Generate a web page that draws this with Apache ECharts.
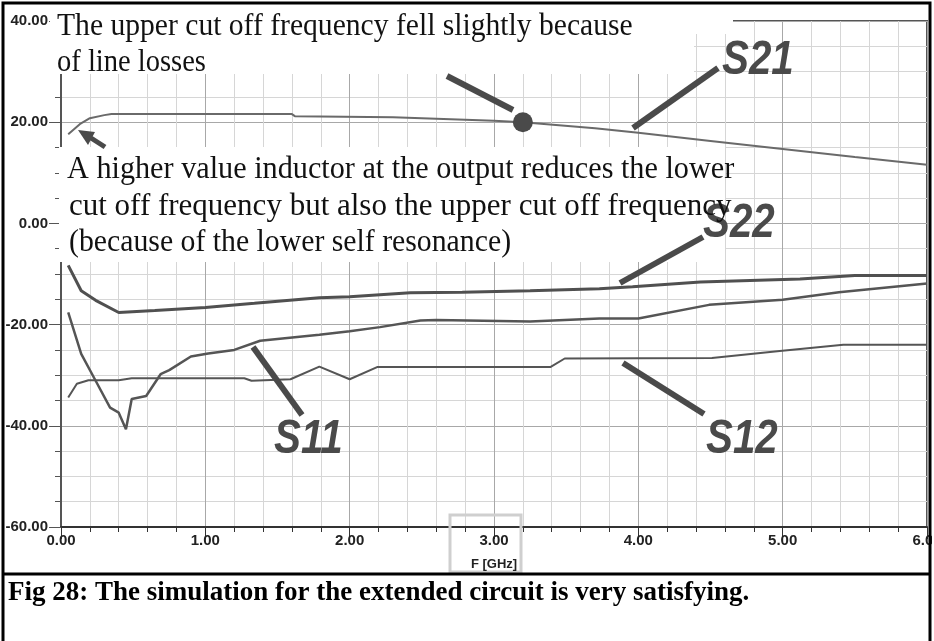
<!DOCTYPE html>
<html lang="en">
<head>
<meta charset="UTF-8">
<title>Fig 28</title>
<script src="https://cdn.jsdelivr.net/npm/echarts@6/dist/echarts.min.js"></script>
<style>
    *{
        padding: 0;
        margin: 0;
    }
    html, body{
        width: 100%;
        height: 100%;
        background: #fff;
    }
    .echarts{
        width: 934px;
        height: 641px;
    }
</style>
</head>
<body>
<div class="echarts"></div>
<script>
// curves, [GHz, dB]
let s21 = [[0.05,17.6],[0.13,19.6],[0.2,20.8],[0.3,21.4],[0.35,21.6],[1.6,21.6],[1.62,21.2],[2.3,21.0],[2.6,20.7],[3.0,20.3],[3.2,20.0],[3.7,18.8],[4.0,17.9],[4.5,16.3],[5.0,14.7],[5.5,13.1],[6.0,11.6]];
let s22 = [[0.05,-8.3],[0.14,-13.3],[0.24,-15.2],[0.4,-17.6],[0.65,-17.2],[1.0,-16.6],[1.34,-15.8],[1.79,-14.7],[2.0,-14.5],[2.42,-13.7],[2.78,-13.6],[3.25,-13.3],[3.73,-12.9],[3.96,-12.5],[4.43,-11.6],[5.12,-11.0],[5.5,-10.3],[6.0,-10.3]];
let s11 = [[0.05,-17.6],[0.14,-25.8],[0.24,-31.1],[0.34,-36.4],[0.4,-37.4],[0.45,-40.7],[0.49,-34.7],[0.59,-34.1],[0.69,-29.8],[0.75,-29.0],[0.9,-26.3],[1.02,-25.7],[1.2,-25.0],[1.38,-23.2],[1.79,-22.0],[2.0,-21.3],[2.21,-20.5],[2.49,-19.2],[2.6,-19.1],[3.25,-19.4],[3.73,-18.8],[4.0,-18.8],[4.49,-16.1],[5.0,-15.1],[5.39,-13.6],[6.0,-11.9]];
let s12 = [[0.05,-34.4],[0.11,-31.7],[0.19,-31.0],[0.4,-31.0],[0.49,-30.6],[1.27,-30.6],[1.32,-31.1],[1.59,-30.8],[1.79,-28.3],[2.0,-30.8],[2.19,-28.4],[3.39,-28.4],[3.49,-26.7],[4.51,-26.6],[4.98,-25.2],[5.42,-24.0],[6.0,-24.0]];
let marker = [[3.2,20.0]];

let note1 = ['The upper cut off frequency fell slightly because', 'of line losses'];
let note2 = ['A higher value inductor at the output reduces the lower',
             'cut off frequency but also the upper cut off frequency',
             '(because of the lower self resonance)'];
let caption = 'Fig 28: The simulation for the extended circuit is very satisfying.';

window.onload = function () {
    let myCharts = echarts.init(document.querySelector('.echarts'));

    let dark = '#4a4a4a';
    let serif = '"Liberation Serif", "Times New Roman", serif';
    let sans = '"Liberation Sans", Arial, sans-serif';

    function text(str, x, y, font, sx, fill) {
        return {type: 'text', x: x, y: y, scaleX: sx, z: 30,
            style: {text: str, x: 0, y: 0, font: font, fill: fill || '#111',
                textAlign: 'left', textVerticalAlign: 'middle'}};
    }
    function stroke(x1, y1, x2, y2, w, c) {
        return {type: 'line', z: 30, shape: {x1: x1, y1: y1, x2: x2, y2: y2},
            style: {stroke: c || dark, lineWidth: w}};
    }
    function box(x, y, w, h) {
        return {type: 'rect', z: 20, shape: {x: x, y: y, width: w, height: h},
            style: {fill: '#fff'}};
    }

    let graphic = [
        box(50, 5, 644, 69),
        box(694, 5, 39, 29),
        box(59, 147, 666, 115),
        box(932, 0, 10, 641),
        // F [GHz] frame
        {type: 'rect', z: 30, shape: {x: 450, y: 515, width: 71, height: 57},
            style: {fill: 'none', stroke: '#cfcfcf', lineWidth: 3}},
        {type: 'text', x: 494, y: 564, z: 31,
            style: {text: 'F [GHz]', font: 'bold 13px ' + sans, fill: '#222',
                textAlign: 'center', textVerticalAlign: 'middle'}},
        // outer frame and caption rule
        {type: 'rect', z: 40, shape: {x: 3, y: 3, width: 927, height: 645},
            style: {fill: 'none', stroke: '#000', lineWidth: 3}},
        stroke(3, 574, 930, 574, 3, '#000'),
        text(caption, 8, 593, 'bold 27px ' + serif, 1.0, '#000'),
        // leader lines
        stroke(633, 128, 718, 68, 6),
        stroke(620, 283, 703, 237, 6),
        stroke(253, 347, 302, 415, 6),
        stroke(623, 363, 704, 414, 6),
        stroke(447, 76, 513, 110, 6),
        // arrow to the low end of S21
        stroke(91, 138, 105, 147, 5),
        {type: 'polygon', z: 30, shape: {points: [[78, 130], [88, 145], [95, 132]]},
            style: {fill: dark}},
        text('S21', 722, 61, 'italic bold 48px ' + sans, 0.84, dark),
        text('S22', 703, 224, 'italic bold 48px ' + sans, 0.84, dark),
        text('S11', 274, 440, 'italic bold 48px ' + sans, 0.84, dark),
        text('S12', 706, 440, 'italic bold 48px ' + sans, 0.84, dark)
    ];
    // per-line placement of the two notes: [x, y, scaleX]
    let note1Pos = [[57, 27, 0.955], [57, 63, 0.92]];
    let note2Pos = [[67, 170, 0.975], [69, 206.5, 1.0], [69, 243, 0.96]];
    note1.forEach((s, i) => graphic.push(text(s, note1Pos[i][0], note1Pos[i][1], '31px ' + serif, note1Pos[i][2])));
    note2.forEach((s, i) => graphic.push(text(s, note2Pos[i][0], note2Pos[i][1], '31px ' + serif, note2Pos[i][2])));

    let lineStyle = (c, w) => ({color: c, width: w});

    let option = {
        animation: false,
        backgroundColor: '#fff',
        grid: {left: 61, top: 21, width: 866, height: 506, show: true,
            outerBoundsMode: 'none', containLabel: false,
            borderColor: '#555', borderWidth: 2},
        xAxis: {
            type: 'value', min: 0, max: 6, interval: 1,
            axisLine: {onZero: false, lineStyle: {color: '#333', width: 2}},
            axisTick: {show: true, length: 12, lineStyle: {color: '#333'}},
            minorTick: {show: true, splitNumber: 5, length: 5, lineStyle: {color: '#333'}},
            splitLine: {show: true, lineStyle: {color: '#a8a8a8'}},
            minorSplitLine: {show: true, lineStyle: {color: '#d6d6d6'}},
            axisLabel: {formatter: v => v.toFixed(2), margin: 6, color: '#222',
                fontFamily: sans, fontWeight: 'bold', fontSize: 15}
        },
        yAxis: {
            type: 'value', min: -60, max: 40, interval: 20,
            axisLine: {show: true, onZero: false, lineStyle: {color: '#555', width: 2}},
            axisTick: {show: true, length: 12, lineStyle: {color: '#555'}},
            minorTick: {show: true, splitNumber: 4, length: 6, lineStyle: {color: '#555'}},
            splitLine: {show: true, lineStyle: {color: '#a8a8a8'}},
            minorSplitLine: {show: true, lineStyle: {color: '#d6d6d6'}},
            axisLabel: {formatter: v => v.toFixed(2), margin: 13, color: '#222',
                fontFamily: sans, fontWeight: 'bold', fontSize: 15}
        },
        series: [
            {name: 'S21', type: 'line', data: s21, showSymbol: false, lineStyle: lineStyle('#6a6a6a', 2)},
            {name: 'S22', type: 'line', data: s22, showSymbol: false, lineStyle: lineStyle('#505050', 3)},
            {name: 'S11', type: 'line', data: s11, showSymbol: false, lineStyle: lineStyle('#555', 2.5)},
            {name: 'S12', type: 'line', data: s12, showSymbol: false, lineStyle: lineStyle('#555', 2)},
            {name: 'marker', type: 'scatter', data: marker, symbolSize: 20, z: 10,
                itemStyle: {color: dark, opacity: 1}}
        ],
        graphic: graphic
    };
    myCharts.setOption(option);
};
</script>
</body>
</html>
